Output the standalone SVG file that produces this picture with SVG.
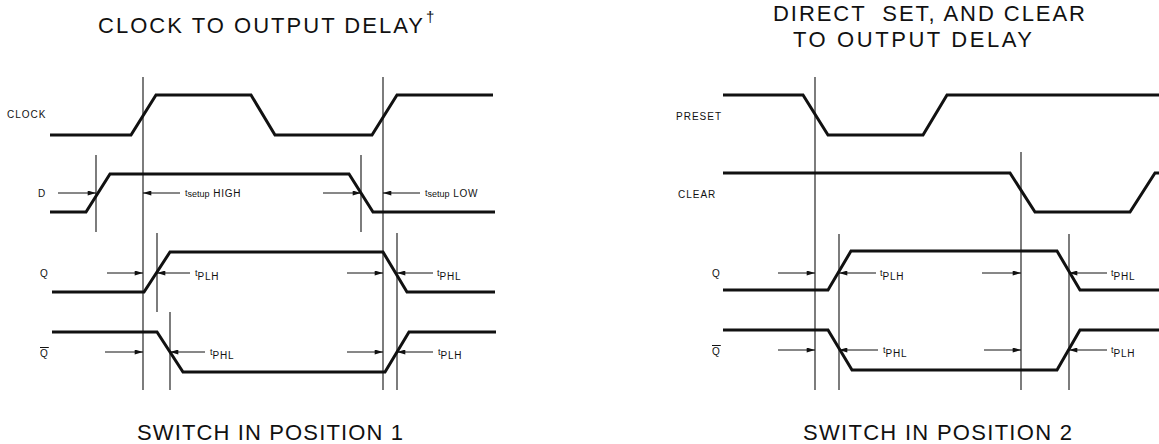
<svg xmlns="http://www.w3.org/2000/svg" width="1159" height="444" viewBox="0 0 1159 444">
<style>
text{font-family:"Liberation Sans",Arial,Helvetica,sans-serif;fill:#111}
.title{font-size:22px}
.lbl{font-size:10px;letter-spacing:1px}
.tm{font-size:9px}
.sub{font-size:10px;letter-spacing:0.8px}
.sig{fill:none;stroke:#111;stroke-width:3;stroke-linejoin:miter}
.ref{stroke:#111;stroke-width:1.1;fill:none}
.arr{stroke:#111;stroke-width:1;fill:none;marker-end:url(#ah)}
</style>
<defs>
<marker id="ah" markerUnits="userSpaceOnUse" viewBox="0 0 10 6" refX="10" refY="3" markerWidth="10" markerHeight="5" orient="auto">
<path d="M0,0 L10,3 L0,6 z" fill="#111"/>
</marker>
</defs>
<rect width="1159" height="444" fill="#fff"/>

<g id="left-title">
<text class="title" x="98" y="33" textLength="325" lengthAdjust="spacing">CLOCK TO OUTPUT DELAY</text>
<text x="426" y="22" font-size="15">†</text>
</g>
<g id="left-caption">
<text class="title" x="137" y="440" textLength="266" lengthAdjust="spacing">SWITCH IN POSITION 1</text>
</g>

<g id="sig-clock">
<text class="lbl" x="7" y="118">CLOCK</text>
<path class="sig" d="M50,135 H131 L156,95 H251 L275,135 H372 L397,95 H493"/>
</g>
<g id="sig-d">
<text class="lbl" x="38" y="197">D</text>
<path class="sig" d="M50,212 H86 L110,174 H349 L373,212 H495"/>
</g>
<g id="sig-q">
<text class="lbl" x="40" y="277">Q</text>
<path class="sig" d="M52,292 H144 L170,252 H383 L407,292 H495"/>
</g>
<g id="sig-qbar">
<text class="lbl" x="40" y="357" text-decoration="overline">Q</text>
<path class="sig" d="M52,332 H157 L183,372 H385 L409,332 H496"/>
</g>

<g id="right-title">
<text class="title" x="773" y="21" textLength="312" lengthAdjust="spacing" style="white-space:pre">DIRECT  SET, AND CLEAR</text>
<text class="title" x="793" y="47" textLength="239" lengthAdjust="spacing">TO OUTPUT DELAY</text>
</g>
<g id="right-caption">
<text class="title" x="803" y="440" textLength="269" lengthAdjust="spacing">SWITCH IN POSITION 2</text>
</g>

<g id="sig-preset">
<text class="lbl" x="676" y="120">PRESET</text>
<path class="sig" d="M723,95 H803 L828,135 H923 L947,95 H1159"/>
</g>
<g id="sig-clear">
<text class="lbl" x="678" y="198">CLEAR</text>
<path class="sig" d="M723,173 H1010 L1035,212 H1130 L1155,173 H1159"/>
</g>
<g id="sig-q2">
<text class="lbl" x="712" y="277">Q</text>
<path class="sig" d="M723,290 H828 L851,251 H1057 L1080,290 H1159"/>
</g>
<g id="sig-qbar2">
<text class="lbl" x="712" y="355" text-decoration="overline">Q</text>
<path class="sig" d="M723,330 H828 L852,370 H1057 L1080,330 H1159"/>
</g>

<g id="connectors">
<!-- left reference lines -->
<line class="ref" x1="143" y1="77" x2="143" y2="390"/>
<line class="ref" x1="383" y1="77" x2="383" y2="390"/>
<line class="ref" x1="96" y1="155" x2="96" y2="232"/>
<line class="ref" x1="361" y1="155" x2="361" y2="232"/>
<line class="ref" x1="157" y1="233" x2="157" y2="312"/>
<line class="ref" x1="170" y1="312" x2="170" y2="390"/>
<line class="ref" x1="397" y1="233" x2="397" y2="390"/>
<!-- left arrows -->
<line class="arr" x1="58" y1="193" x2="96" y2="193"/>
<line class="arr" x1="180" y1="193" x2="143" y2="193"/>
<line class="arr" x1="323" y1="193" x2="361" y2="193"/>
<line class="arr" x1="420" y1="193" x2="383" y2="193"/>
<line class="arr" x1="107" y1="273" x2="143" y2="273"/>
<line class="arr" x1="190" y1="273" x2="157" y2="273"/>
<line class="arr" x1="347" y1="273" x2="383" y2="273"/>
<line class="arr" x1="433" y1="273" x2="397" y2="273"/>
<line class="arr" x1="105" y1="352" x2="143" y2="352"/>
<line class="arr" x1="205" y1="352" x2="170" y2="352"/>
<line class="arr" x1="347" y1="352" x2="383" y2="352"/>
<line class="arr" x1="433" y1="352" x2="397" y2="352"/>
<!-- right reference lines -->
<line class="ref" x1="815" y1="77" x2="815" y2="390"/>
<line class="ref" x1="1021" y1="152" x2="1021" y2="390" stroke-width="1.4"/>
<line class="ref" x1="839" y1="234" x2="839" y2="390"/>
<line class="ref" x1="1069" y1="234" x2="1069" y2="390"/>
<!-- right arrows -->
<line class="arr" x1="778" y1="273" x2="815" y2="273"/>
<line class="arr" x1="876" y1="273" x2="839" y2="273"/>
<line class="arr" x1="982" y1="273" x2="1021" y2="273"/>
<line class="arr" x1="1107" y1="273" x2="1069" y2="273"/>
<line class="arr" x1="778" y1="350" x2="815" y2="350"/>
<line class="arr" x1="878" y1="350" x2="839" y2="350"/>
<line class="arr" x1="984" y1="350" x2="1021" y2="350"/>
<line class="arr" x1="1107" y1="350" x2="1069" y2="350"/>
</g>

<g id="timing-labels">
<text class="tm" x="185" y="196">t<tspan dy="1">setup</tspan><tspan class="sub" dy="0"> HIGH</tspan></text>
<text class="tm" x="425" y="196">t<tspan dy="1">setup</tspan><tspan class="sub" dy="0"> LOW</tspan></text>
<text class="tm" x="195" y="276">t<tspan class="sub" dy="4">PLH</tspan></text>
<text class="tm" x="437" y="276">t<tspan class="sub" dy="4">PHL</tspan></text>
<text class="tm" x="210" y="355">t<tspan class="sub" dy="4">PHL</tspan></text>
<text class="tm" x="438" y="355">t<tspan class="sub" dy="4">PLH</tspan></text>
<text class="tm" x="880" y="276">t<tspan class="sub" dy="4">PLH</tspan></text>
<text class="tm" x="1111" y="276">t<tspan class="sub" dy="4">PHL</tspan></text>
<text class="tm" x="883" y="353">t<tspan class="sub" dy="4">PHL</tspan></text>
<text class="tm" x="1111" y="353">t<tspan class="sub" dy="4">PLH</tspan></text>
</g>
</svg>
